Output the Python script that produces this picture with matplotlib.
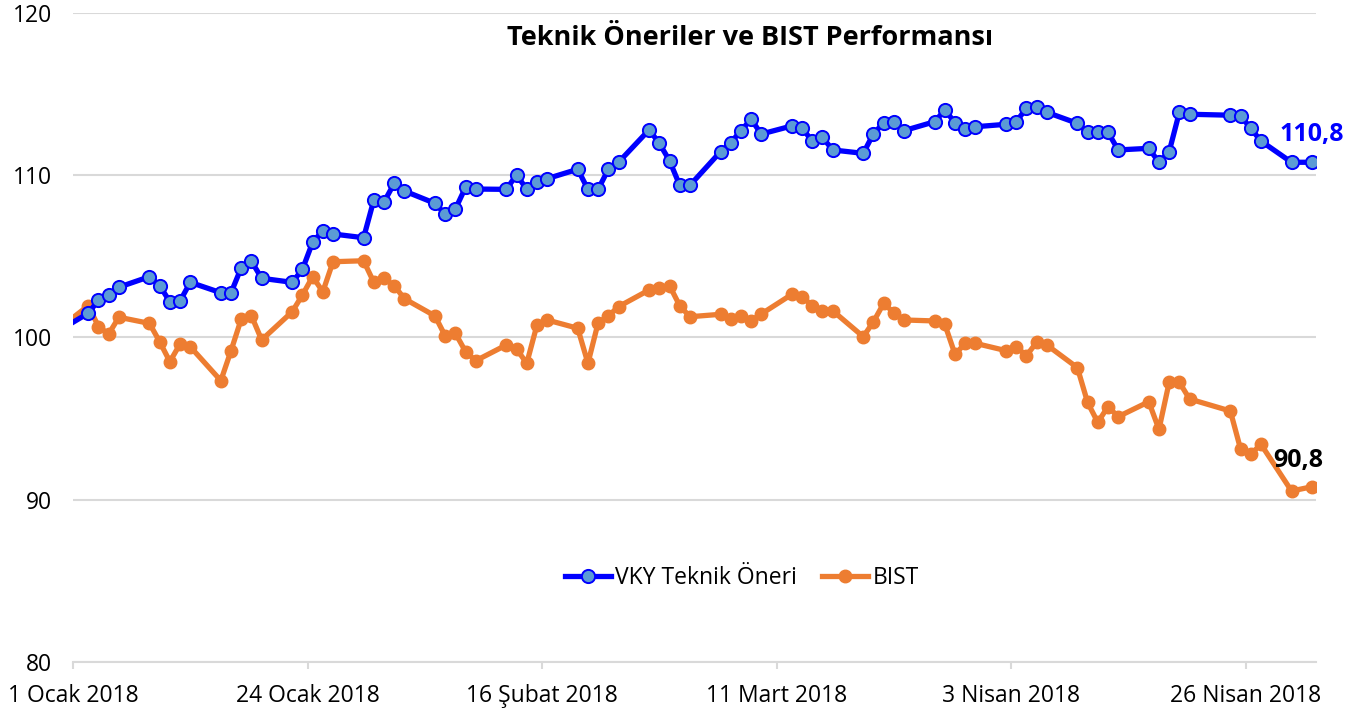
import pandas as pd
import matplotlib.pyplot as plt

# trading days (first point is the base day, sits left of the axis)
dates = ['2017-12-29',
         '2018-01-02', '2018-01-03', '2018-01-04', '2018-01-05', '2018-01-08', '2018-01-09',
         '2018-01-10', '2018-01-11', '2018-01-12', '2018-01-15', '2018-01-16', '2018-01-17',
         '2018-01-18', '2018-01-19', '2018-01-22', '2018-01-23', '2018-01-24', '2018-01-25',
         '2018-01-26', '2018-01-29', '2018-01-30', '2018-01-31',
         '2018-02-01', '2018-02-02', '2018-02-05', '2018-02-06', '2018-02-07', '2018-02-08',
         '2018-02-09', '2018-02-12', '2018-02-13', '2018-02-14', '2018-02-15', '2018-02-16',
         '2018-02-19', '2018-02-20', '2018-02-21', '2018-02-22', '2018-02-23', '2018-02-26',
         '2018-02-27', '2018-02-28',
         '2018-03-01', '2018-03-02', '2018-03-05', '2018-03-06', '2018-03-07', '2018-03-08',
         '2018-03-09', '2018-03-12', '2018-03-13', '2018-03-14', '2018-03-15', '2018-03-16',
         '2018-03-19', '2018-03-20', '2018-03-21', '2018-03-22', '2018-03-23', '2018-03-26',
         '2018-03-27', '2018-03-28', '2018-03-29', '2018-03-30',
         '2018-04-02', '2018-04-03', '2018-04-04', '2018-04-05', '2018-04-06', '2018-04-09',
         '2018-04-10', '2018-04-11', '2018-04-12', '2018-04-13', '2018-04-16', '2018-04-17',
         '2018-04-18', '2018-04-19', '2018-04-20', '2018-04-24', '2018-04-25', '2018-04-26',
         '2018-04-27', '2018-04-30',
         '2018-05-02']

vky = [100,
       101.5, 102.3, 102.6, 103.1, 103.75, 103.2, 102.2, 102.25, 103.4, 102.76, 102.76, 104.3,
       104.7, 103.65, 103.4, 104.2, 105.87, 106.58, 106.38, 106.15, 108.47, 108.35,
       109.5, 109.03, 108.27, 107.6, 107.92, 109.26, 109.15, 109.13, 110.03, 109.13, 109.56, 109.79,
       110.37, 109.13, 109.13, 110.37, 110.8, 112.8, 111.97, 110.9,
       109.38, 109.38, 111.45, 112.0, 112.75, 113.45, 112.54, 113.04, 112.9, 112.11, 112.34, 111.56,
       111.35, 112.56, 113.22, 113.3, 112.75, 113.3, 114.02, 113.24, 112.87, 112.99,
       113.14, 113.3, 114.13, 114.19, 113.88, 113.2, 112.65, 112.65, 112.65, 111.56, 111.66, 110.8,
       111.45, 113.88, 113.76, 113.7, 113.67, 112.89, 112.11, 110.8,
       110.8]

bist = [100,
        101.96, 100.67, 100.22, 101.25, 100.87, 99.74, 98.51, 99.6, 99.43, 97.34, 99.19, 101.14,
        101.34, 99.85, 101.59, 102.62, 103.75, 102.82, 104.67, 104.73, 103.4, 103.65,
        103.2, 102.39, 101.33, 100.1, 100.26, 99.13, 98.57, 99.54, 99.29, 98.41, 100.77, 101.08,
        100.57, 98.41, 100.91, 101.33, 101.9, 102.93, 103.03, 103.2,
        101.96, 101.28, 101.43, 101.14, 101.33, 101.04, 101.45, 102.66, 102.52, 101.96, 101.65, 101.65,
        100.05, 100.97, 102.1, 101.53, 101.08, 101.02, 100.81, 98.96, 99.64, 99.64,
        99.19, 99.43, 98.88, 99.7, 99.54, 98.14, 96.0, 94.77, 95.74, 95.12, 96.04, 94.34,
        97.24, 97.24, 96.21, 95.47, 93.13, 92.8, 93.42, 90.54,
        90.8]

tick_dates = ['2018-01-01', '2018-01-24', '2018-02-16', '2018-03-11', '2018-04-03', '2018-04-26']
tick_labels = ['1 Ocak 2018', '24 Ocak 2018', '16 Şubat 2018', '11 Mart 2018',
               '3 Nisan 2018', '26 Nisan 2018']

plt.rcParams['font.family'] = ['Open Sans', 'DejaVu Sans']
plt.rcParams['font.size'] = 16.5

x = pd.to_datetime(dates) + pd.Timedelta(hours=12)  # points sit mid-day

fig = plt.figure(figsize=(13.49, 7.09), dpi=100)
ax = fig.add_axes([73/1349, 1-662/709, (1316-73)/1349, (662-13)/709])

ax.plot(x, vky, color='#0000FF', lw=3.8, marker='o', ms=9.5,
        mfc='#5B9BD5', mec='#0000FF', mew=1.4, label='VKY Teknik Öneri', zorder=3)
ax.plot(x, bist, color='#ED7D31', lw=3.8, marker='o', ms=9,
        mfc='#ED7D31', mec='#ED7D31', label='BIST', zorder=2)

ax.set_xlim(pd.Timestamp('2018-01-01'), pd.Timestamp('2018-01-01') + pd.Timedelta(days=121.9))
ax.set_ylim(80, 120)
ax.set_yticks([80, 90, 100, 110, 120])
ax.set_xticks(pd.to_datetime(tick_dates))
ax.set_xticklabels(tick_labels)

ax.grid(axis='y', color='#D9D9D9', lw=1.5)
ax.set_axisbelow(True)
for s in ['left', 'right', 'top']:
    ax.spines[s].set_visible(False)
ax.spines['bottom'].set_color('#D9D9D9')
ax.spines['bottom'].set_linewidth(1.5)
ax.tick_params(axis='x', length=5, width=1.5, color='#D9D9D9', pad=11)
ax.tick_params(axis='y', length=0, pad=15)

ax.annotate('110,8', (x[-1], vky[-1]), xytext=(0, 20), textcoords='offset points',
            ha='center', va='center', color='#0000FF', fontweight='bold', fontsize=18)
ax.annotate('90,8', (x[-1], bist[-1]), xytext=(-10, 19), textcoords='offset points',
            ha='center', va='center', color='black', fontweight='bold', fontsize=18)

fig.text(750/1349, 1-38/709, 'Teknik Öneriler ve BIST Performansı',
         ha='center', va='center', fontweight='bold', fontsize=19.5)

ax.legend(loc='center', bbox_to_anchor=(742/1349, 1-578/709), bbox_transform=fig.transFigure,
          ncol=2, frameon=False, handlelength=2.0, columnspacing=1.1, handletextpad=0.2)

fig.savefig('out.png', dpi=100)
